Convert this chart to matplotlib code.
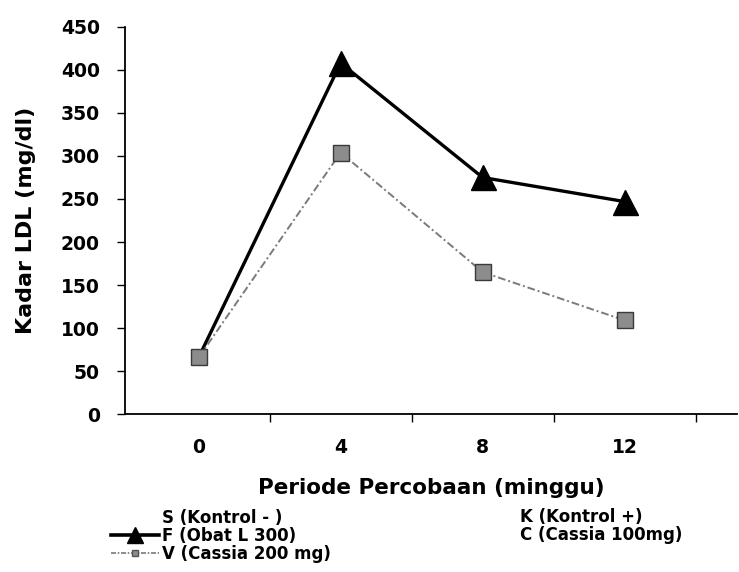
import matplotlib
matplotlib.use("Agg")
import matplotlib.pyplot as plt
from matplotlib.lines import Line2D
import numpy as np

plt.rcParams['font.family'] = ['DejaVu Sans']

weeks = ["0", "4", "8", "12"]
obat_l300 = [66, 408, 275, 247]
cassia_200 = [66, 304, 165, 109]
yticks = [0, 50, 100, 150, 200, 250, 300, 350, 400, 450]

fig = plt.figure(figsize=(7.39, 5.72), dpi=100)
ax = fig.add_axes([0.169, 0.276, 0.828, 0.677])

x = np.arange(len(weeks))
ax.plot(x, obat_l300, color='black', lw=2.4, marker='^', ms=18,
        mfc='black', mec='black', markevery=[1, 2, 3], zorder=3)
ax.plot(x, cassia_200, color='#7a7a7a', lw=1.4, ls=(0, (4, 1.5, 1, 1.5)),
        marker='s', ms=12, mfc='#8c8c8c', mec='#3a3a3a', mew=1.0, zorder=4)

ax.set_xlim(-0.52, 3.79)
ax.set_ylim(0, 450)
ax.set_yticks(yticks)
ax.set_yticklabels([str(v) for v in yticks], fontsize=13.5, fontweight='bold')
ax.set_xticks(x)
ax.set_xticklabels(weeks, fontsize=13.5, fontweight='bold')
ax.set_xticks(np.arange(0.5, 3.6, 1.0), minor=True)
ax.tick_params(axis='x', which='major', length=0, pad=17)
ax.tick_params(axis='x', which='minor', length=6, direction='out', width=1)
ax.tick_params(axis='y', length=6, direction='out', width=1, pad=12)

for s in ['top', 'right']:
    ax.spines[s].set_visible(False)
for s in ['left', 'bottom']:
    ax.spines[s].set_linewidth(1.3)

ax.set_ylabel("Kadar LDL (mg/dl)", fontsize=16, fontweight='bold', labelpad=18)
ax.set_xlabel("Periode Percobaan (minggu)", fontsize=15.5, fontweight='bold', labelpad=15)

# legends
h_s = Line2D([], [], color='none')
h_f = Line2D([], [], color='black', lw=2.6, marker='^', ms=11)
h_v = Line2D([], [], color='#7a7a7a', lw=1.2, ls=(0, (3, 1, 1, 1)), marker='s', ms=4,
             mfc='#8c8c8c', mec='#555555')
leg1 = fig.legend([h_s, h_f, h_v], ["S (Kontrol - )", "F (Obat L 300)", "V (Cassia 200 mg)"],
                  loc='upper left', bbox_to_anchor=(0.150, 0.110), frameon=False,
                  prop={'weight': 'bold', 'size': 12}, labelspacing=0.0,
                  handlelength=2.9, handletextpad=0.15, borderpad=0, borderaxespad=0)
leg2 = fig.legend([Line2D([], [], color='none'), Line2D([], [], color='none')],
                  ["K (Kontrol +)", "C (Cassia 100mg)"],
                  loc='upper left', bbox_to_anchor=(0.703, 0.112), frameon=False,
                  prop={'weight': 'bold', 'size': 12}, labelspacing=0.0,
                  handlelength=0, handletextpad=0, borderpad=0, borderaxespad=0)

fig.savefig("out.png", dpi=100)
